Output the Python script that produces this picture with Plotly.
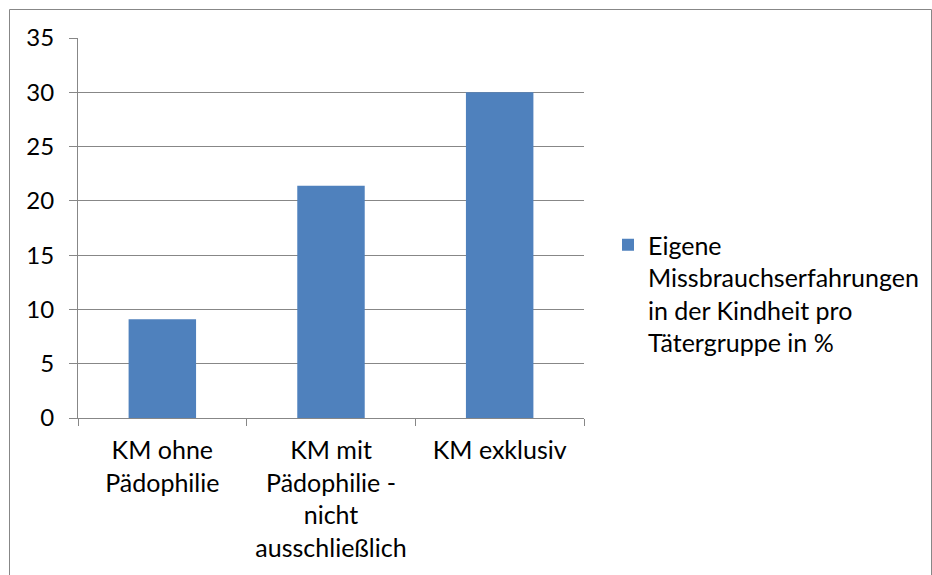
import plotly.graph_objects as go

# Anteil der Täter mit eigenen Missbrauchserfahrungen in der Kindheit
categories = [
    "KM ohne<br>Pädophilie",
    "KM mit<br>Pädophilie -<br>nicht<br>ausschließlich",
    "KM exklusiv",
]
values = [9.1, 21.4, 30.0]
series_name = "Eigene<br>Missbrauchserfahrungen<br>in der Kindheit pro<br>Tätergruppe in %"
y_ticks = [0, 5, 10, 15, 20, 25, 30, 35]

BAR_BLUE = "#4F81BD"
GRID = "#878787"
FAMILY = "Lato, Carlito, Calibri, sans-serif"
FONT = dict(family=FAMILY, size=25, color="#000000")
TICK_FONT = dict(family=FAMILY, size=24, color="#000000")

W, H = 932, 575
L, R, T, B = 78, 348, 38, 157

fig = go.Figure()
fig.add_trace(go.Bar(
    x=categories,
    y=values,
    name=series_name,
    marker=dict(color=BAR_BLUE, line=dict(width=0)),
    showlegend=True,
))

# outer chart frame (pixel -> paper conversion)
pw, ph = W - L - R, H - T - B
def px_x(v):
    return (v - L) / pw
def px_y(v):
    return (H - B - v) / ph

fig.add_shape(type="rect", xref="paper", yref="paper",
              x0=px_x(9.5), x1=px_x(931.5), y0=px_y(600), y1=px_y(9.5),
              line=dict(color=GRID, width=1), fillcolor="rgba(0,0,0,0)", layer="below")

fig.update_layout(
    width=W, height=H,
    margin=dict(l=L, r=R, t=T, b=B, pad=0, autoexpand=False),
    paper_bgcolor="white", plot_bgcolor="white",
    font=FONT,
    bargap=0.6,
    showlegend=True,
    legend=dict(
        x=px_x(608), y=px_y(222), xanchor="left", yanchor="top",
        xref="paper", yref="paper",
        valign="top", font=FONT, bgcolor="rgba(0,0,0,0)",
        itemclick=False, itemdoubleclick=False,
    ),
)
fig.update_xaxes(
    type="category", range=[-0.5, 2.5],
    showline=True, linecolor=GRID, linewidth=1,
    ticks="outside", tickson="boundaries", ticklen=7, tickcolor=GRID, tickwidth=1,
    showgrid=False, zeroline=False, ticklabelstandoff=10,
    tickfont=FONT, automargin=False,
)
fig.update_yaxes(
    range=[0, 35], tickvals=y_ticks,
    showline=True, linecolor=GRID, linewidth=1,
    ticks="outside", ticklen=8, tickcolor=GRID, tickwidth=1,
    showgrid=True, gridcolor=GRID, gridwidth=1, zeroline=False,
    ticklabelstandoff=10, tickfont=TICK_FONT, automargin=False,
)

fig.write_html("out.html")
